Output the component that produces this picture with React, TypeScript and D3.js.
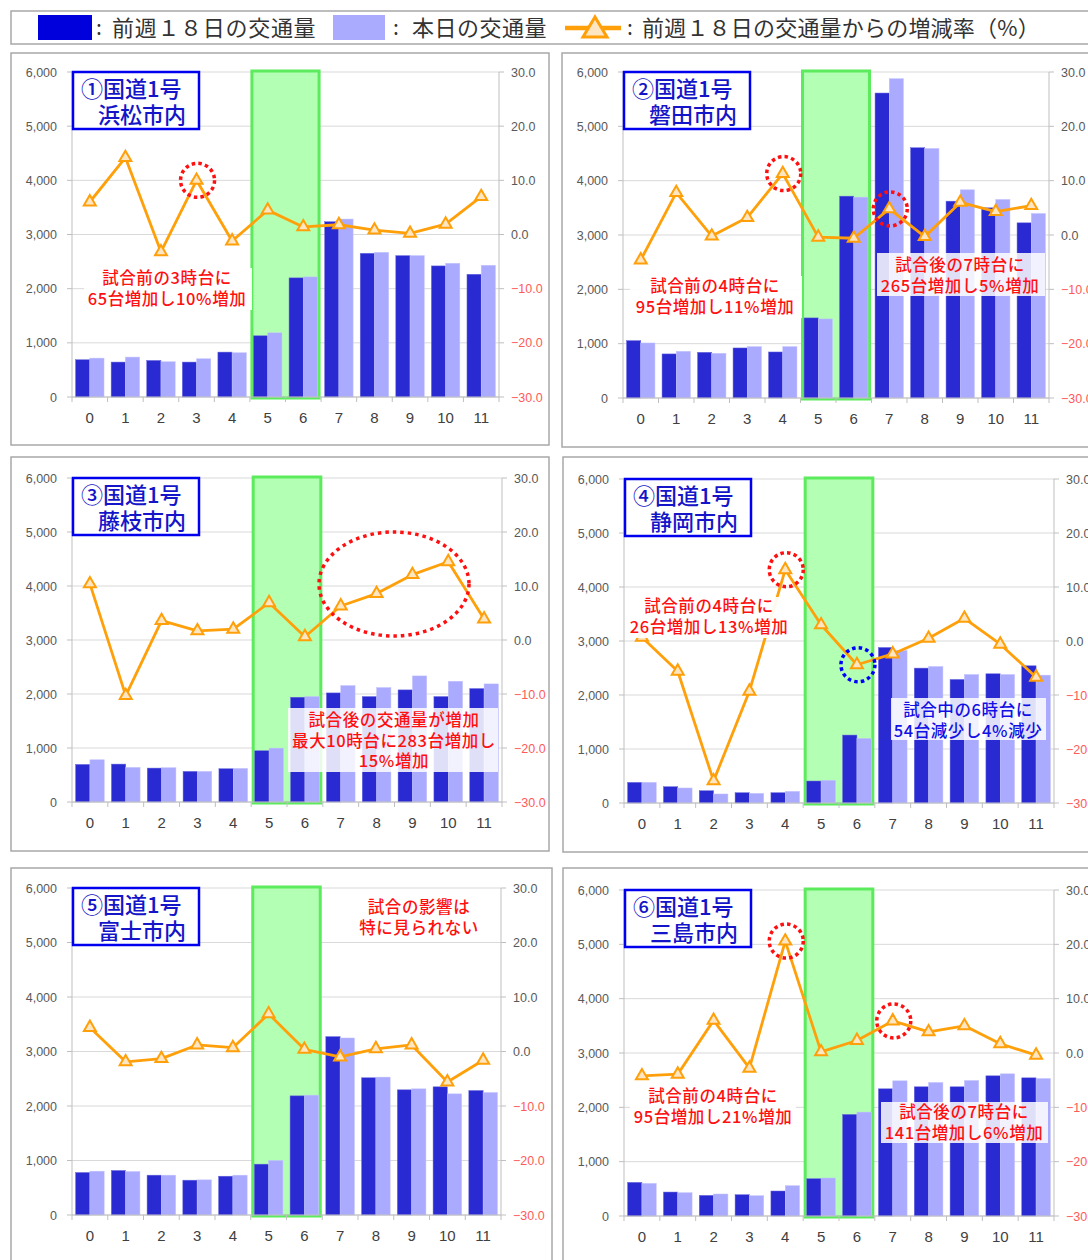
import React from "react";
import * as d3 from "d3";

const hours = ["0", "1", "2", "3", "4", "5", "6", "7", "8", "9", "10", "11"];
const leftTicks = [0, 1000, 2000, 3000, 4000, 5000, 6000];
const rightTicks = [-30, -20, -10, 0, 10, 20, 30];

const hamamatsuPrev = [688, 645, 675, 645, 829, 1130, 2199, 3236, 2653, 2610, 2420, 2266];
const hamamatsuToday = [718, 737, 651, 706, 817, 1185, 2217, 3285, 2671, 2610, 2469, 2432];
const hamamatsuRate = [6.0, 14.2, -3.2, 10.0, -1.2, 4.5, 1.4, 1.8, 0.8, 0.2, 1.9, 7.0];

const iwataPrev = [1056, 811, 841, 921, 847, 1474, 3715, 5613, 4606, 3623, 3500, 3224];
const iwataToday = [1013, 860, 823, 946, 946, 1455, 3697, 5877, 4593, 3832, 3654, 3396];
const iwataRate = [-4.6, 7.8, -0.2, 3.2, 11.3, -0.4, -0.6, 4.8, -0.3, 6.0, 4.3, 5.4];

const fujiedaPrev = [696, 702, 628, 567, 616, 949, 1940, 2020, 1953, 2076, 1953, 2101];
const fujiedaToday = [782, 641, 635, 567, 622, 998, 1953, 2156, 2119, 2335, 2236, 2187];
const fujiedaRate = [10.4, -10.3, 3.6, 1.7, 2.0, 6.9, 0.6, 6.3, 8.6, 12.1, 14.5, 3.9];

const shizuokaPrev = [382, 302, 228, 191, 191, 407, 1258, 2880, 2498, 2288, 2393, 2541];
const shizuokaToday = [382, 278, 167, 179, 216, 419, 1196, 2825, 2528, 2380, 2380, 2368];
const shizuokaRate = [0.7, -5.6, -25.9, -9.3, 13.2, 3.0, -4.4, -2.4, 0.5, 4.2, -0.6, -6.7];

const fujiPrev = [780, 817, 731, 639, 712, 933, 2186, 3273, 2518, 2297, 2352, 2284];
const fujiToday = [804, 798, 731, 645, 731, 1001, 2199, 3248, 2530, 2315, 2223, 2248];
const fujiRate = [4.4, -1.9, -1.3, 1.2, 0.7, 6.9, 0.4, -1.0, 0.5, 1.2, -5.6, -1.6];

const mishimaPrev = [619, 441, 380, 392, 460, 686, 1869, 2341, 2378, 2378, 2580, 2543];
const mishimaToday = [601, 429, 405, 374, 558, 699, 1912, 2488, 2458, 2494, 2617, 2531];
const mishimaRate = [-4.2, -3.9, 6.0, -2.8, 20.6, 0.2, 2.3, 5.9, 3.9, 5.0, 1.7, -0.4];

const legendLabels = ["前週１８日の交通量", "本日の交通量", "前週１８日の交通量からの増減率（%）"];

const DARK = "#2A2AD2";
const LIGHT = "#AAAAFF";
const ORANGE = "#FFA00A";
const TRI_FILL = "#FFE6C2";
const RED = "#FF1010";
const BLUE = "#1010E6";
const JP = "'Noto Sans CJK JP', 'Noto Sans', sans-serif";
const NUM = "'Liberation Sans', Arial, sans-serif";

type Note = { lines: string[]; color: string; cx: number; y: number; box?: number[]; op?: number };
type Cfg = {
  frame: number[];
  plot: { l: number; r: number; t: number; b: number };
  prev: number[];
  today: number[];
  rate: number[];
  num: string;
  city: string;
  notes: Note[];
  circles: { i: number; color: string }[];
  ellipse?: number[];
};

const panels: Cfg[] = [
  {
    frame: [11, 53, 538, 392],
    plot: { l: 72, r: 499, t: 72, b: 397 },
    prev: hamamatsuPrev, today: hamamatsuToday, rate: hamamatsuRate,
    num: "①国道1号", city: "浜松市内",
    notes: [{ lines: ["試合前の3時台に", "65台増加し10%増加"], color: RED, cx: 167, y: 284, box: [84, 268, 168, 42] }],
    circles: [{ i: 3, color: RED }],
  },
  {
    frame: [562, 53, 540, 394],
    plot: { l: 623, r: 1049, t: 72, b: 398 },
    prev: iwataPrev, today: iwataToday, rate: iwataRate,
    num: "②国道1号", city: "磐田市内",
    notes: [
      { lines: ["試合前の4時台に", "95台増加し11%増加"], color: RED, cx: 715, y: 292, box: [630, 276, 172, 42] },
      { lines: ["試合後の7時台に", "265台増加し5%増加"], color: RED, cx: 960, y: 271, box: [877, 253, 168, 43], op: 0.85 },
    ],
    circles: [{ i: 4, color: RED }, { i: 7, color: RED }],
  },
  {
    frame: [11, 457, 538, 394],
    plot: { l: 72, r: 502, t: 478, b: 802 },
    prev: fujiedaPrev, today: fujiedaToday, rate: fujiedaRate,
    num: "③国道1号", city: "藤枝市内",
    notes: [{ lines: ["試合後の交通量が増加", "最大10時台に283台増加し", "15%増加"], color: RED, cx: 394, y: 726, box: [288, 708, 210, 64], op: 0.85 }],
    circles: [],
    ellipse: [394, 584, 75, 52],
  },
  {
    frame: [563, 457, 540, 395],
    plot: { l: 624, r: 1054, t: 479, b: 803 },
    prev: shizuokaPrev, today: shizuokaToday, rate: shizuokaRate,
    num: "④国道1号", city: "静岡市内",
    notes: [
      { lines: ["試合前の4時台に", "26台増加し13%増加"], color: RED, cx: 709, y: 612, box: [626, 597, 170, 41] },
      { lines: ["試合中の6時台に", "54台減少し4%減少"], color: BLUE, cx: 968, y: 716, box: [891, 698, 155, 42], op: 0.85 },
    ],
    circles: [{ i: 4, color: RED }, { i: 6, color: "#0000FF" }],
  },
  {
    frame: [11, 868, 541, 410],
    plot: { l: 72, r: 501, t: 888, b: 1215 },
    prev: fujiPrev, today: fujiToday, rate: fujiRate,
    num: "⑤国道1号", city: "富士市内",
    notes: [{ lines: ["試合の影響は", "特に見られない"], color: RED, cx: 419, y: 913 }],
    circles: [],
  },
  {
    frame: [563, 868, 540, 410],
    plot: { l: 624, r: 1054, t: 890, b: 1216 },
    prev: mishimaPrev, today: mishimaToday, rate: mishimaRate,
    num: "⑥国道1号", city: "三島市内",
    notes: [
      { lines: ["試合前の4時台に", "95台増加し21%増加"], color: RED, cx: 713, y: 1102, box: [630, 1087, 166, 42] },
      { lines: ["試合後の7時台に", "141台増加し6%増加"], color: RED, cx: 964, y: 1118, box: [881, 1102, 167, 41], op: 0.85 },
    ],
    circles: [{ i: 4, color: RED }, { i: 7, color: RED }],
  },
];

function Panel({ cfg }: { cfg: Cfg }) {
  const { frame, plot, prev, today, rate } = cfg;
  const x = d3.scaleBand<string>().domain(hours).range([plot.l, plot.r]).paddingInner(0.2).paddingOuter(0.1);
  const xs = d3.scaleBand<string>().domain(["prev", "today"]).range([0, x.bandwidth()]);
  const y = d3.scaleLinear().domain([0, 6000]).range([plot.b, plot.t]);
  const yr = d3.scaleLinear().domain([-30, 30]).range([plot.b, plot.t]);
  const step = x.step();
  const cx = (i: number) => (x(hours[i]) as number) + x.bandwidth() / 2;
  const line = d3.line<number>().x((_, i) => cx(i)).y((d) => yr(d));
  const tri = d3.symbol().type(d3.symbolTriangle).size(62)() as string;
  const bounds = d3.range(13).map((i) => plot.l + i * step);
  const gx0 = plot.l + 5 * step + 2;
  const gx1 = plot.l + 7 * step - 2;
  const tb = { x: plot.l + 1, y: plot.t, w: 126, h: 57 };

  return (
    <g>
      <rect x={frame[0]} y={frame[1]} width={frame[2]} height={frame[3]} fill="#fff" stroke="#A8A8A8" strokeWidth={1.5} />
      {leftTicks.map((t) => (
        <line key={t} x1={plot.l} x2={plot.r} y1={y(t)} y2={y(t)} stroke="#D9D9D9" strokeWidth={1} />
      ))}
      <rect x={gx0} y={plot.t - 1} width={gx1 - gx0} height={plot.b - plot.t + 2} fill="#B3FFB3" stroke="#5CEB5C" strokeWidth={3} />
      {hours.map((h, i) => (
        <g key={h}>
          <rect x={(x(h) as number) + (xs("prev") as number)} y={y(prev[i])} width={xs.bandwidth()} height={y(0) - y(prev[i])} fill={DARK} stroke="#6a6ae0" strokeWidth={0.5} />
          <rect x={(x(h) as number) + (xs("today") as number)} y={y(today[i])} width={xs.bandwidth()} height={y(0) - y(today[i])} fill={LIGHT} stroke="#c4c4ff" strokeWidth={0.5} />
        </g>
      ))}
      <line x1={plot.l} x2={plot.l} y1={plot.t} y2={plot.b} stroke="#BFBFBF" />
      <line x1={plot.r} x2={plot.r} y1={plot.t} y2={plot.b} stroke="#BFBFBF" />
      <line x1={plot.l} x2={plot.r} y1={plot.b} y2={plot.b} stroke="#BFBFBF" />
      {bounds.map((bx, i) => (
        <line key={i} x1={bx} x2={bx} y1={plot.b} y2={plot.b + 5} stroke="#BFBFBF" />
      ))}
      {leftTicks.map((t) => (
        <g key={t}>
          <line x1={plot.l - 5} x2={plot.l} y1={y(t)} y2={y(t)} stroke="#BFBFBF" />
          <text x={plot.l - 15} y={y(t) + 4.5} textAnchor="end" fontFamily={NUM} fontSize={12.5} fill="#595959">
            {d3.format(",")(t)}
          </text>
        </g>
      ))}
      {rightTicks.map((t) => (
        <g key={t}>
          <line x1={plot.r} x2={plot.r + 5} y1={yr(t)} y2={yr(t)} stroke="#BFBFBF" />
          <text x={plot.r + 12} y={yr(t) + 4.5} textAnchor="start" fontFamily={NUM} fontSize={12.5} fill={t < 0 ? "#FF5A5A" : "#595959"}>
            {d3.format(".1f")(t)}
          </text>
        </g>
      ))}
      {hours.map((h, i) => (
        <text key={h} x={cx(i)} y={plot.b + 26} textAnchor="middle" fontFamily={NUM} fontSize={15} fill="#404040">
          {h}
        </text>
      ))}
      <path d={line(rate) as string} fill="none" stroke={ORANGE} strokeWidth={2.8} strokeLinejoin="round" />
      {rate.map((r, i) => (
        <path key={i} d={tri} transform={`translate(${cx(i)},${yr(r)})`} fill={TRI_FILL} stroke={ORANGE} strokeWidth={2} />
      ))}
      {cfg.notes.map((n, k) => (
        <g key={k}>
          {n.box && <rect x={n.box[0]} y={n.box[1]} width={n.box[2]} height={n.box[3]} fill="#fff" opacity={n.op ?? 0.92} />}
          {n.lines.map((s, j) => (
            <text key={j} x={n.cx} y={n.y + j * 20.5} textAnchor="middle" fontFamily={JP} fontSize={16.5} fontWeight={500} letterSpacing={0.6} fill={n.color}>
              {s}
            </text>
          ))}
        </g>
      ))}
      {cfg.circles.map((c, k) => (
        <circle key={k} cx={cx(c.i) + 1} cy={yr(rate[c.i])} r={17} fill="none" stroke={c.color} strokeWidth={3.5} strokeDasharray="3.5 3.2" />
      ))}
      {cfg.ellipse && (
        <ellipse cx={cfg.ellipse[0]} cy={cfg.ellipse[1]} rx={cfg.ellipse[2]} ry={cfg.ellipse[3]} fill="none" stroke={RED} strokeWidth={3.5} strokeDasharray="3.5 4" />
      )}
      <rect x={tb.x} y={tb.y} width={tb.w} height={tb.h} fill="#fff" stroke="#0000EE" strokeWidth={2.5} />
      <text x={tb.x + 8} y={tb.y + 25} fontFamily={JP} fontSize={22} fontWeight={500} fill="#1414C8">
        {cfg.num}
      </text>
      <text x={tb.x + 25} y={tb.y + 51} fontFamily={JP} fontSize={22} fontWeight={500} fill="#1414C8">
        {cfg.city}
      </text>
    </g>
  );
}

function Legend() {
  const ty = 36;
  return (
    <g>
      <rect x={11} y={11} width={1090} height={33} fill="#fff" stroke="#A8A8A8" strokeWidth={1.5} />
      <rect x={38} y={15} width={54} height={25} fill="#0000DD" />
      <text x={96} y={ty - 1} fontFamily={JP} fontSize={21} fill="#333">:</text>
      <text x={112} y={ty} fontFamily={JP} fontSize={22} letterSpacing={0.7} fill="#333">{legendLabels[0]}</text>
      <rect x={333} y={15} width={52} height={25} fill={LIGHT} />
      <text x={393} y={ty - 1} fontFamily={JP} fontSize={21} fill="#333">:</text>
      <text x={412} y={ty} fontFamily={JP} fontSize={22} letterSpacing={0.5} fill="#333">{legendLabels[1]}</text>
      <line x1={565} x2={621} y1={28} y2={28} stroke={ORANGE} strokeWidth={4.5} />
      <path d="M595,17 L607,37 L583,37 Z" fill={TRI_FILL} stroke={ORANGE} strokeWidth={3} strokeLinejoin="miter" />
      <text x={627} y={ty - 1} fontFamily={JP} fontSize={21} fill="#333">:</text>
      <text x={642} y={ty} fontFamily={JP} fontSize={22} letterSpacing={0.2} fill="#333">{legendLabels[2]}</text>
    </g>
  );
}

export default function App() {
  return (
    <svg width={1088} height={1260} viewBox="0 0 1088 1260" style={{ position: "absolute", left: 0, top: 0, background: "#fff" }}>
      <rect x={0} y={0} width={1088} height={1260} fill="#fff" />
      <Legend />
      {panels.map((p, i) => (
        <Panel key={i} cfg={p} />
      ))}
    </svg>
  );
}
